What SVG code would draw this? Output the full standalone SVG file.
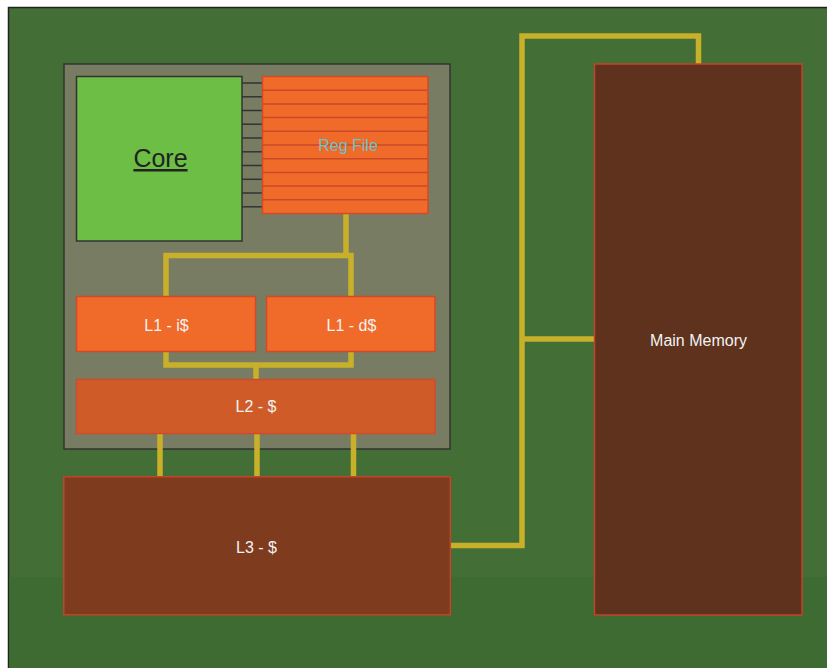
<svg xmlns="http://www.w3.org/2000/svg" width="827" height="668" viewBox="0 0 827 668">
<defs>
<style>
.lbl{font-family:"Liberation Sans",Arial,sans-serif;font-size:16px;fill:#f2f2f2;text-anchor:middle}
.bus{fill:none;stroke:#c9b02a;stroke-width:5.5;stroke-linejoin:miter;stroke-linecap:butt}
.org{fill:#f06a29;stroke:#d24a28;stroke-width:1.5}
.tick{stroke:#333;stroke-width:1.5}
.row{stroke:#c94a28;stroke-width:1.5}
</style>
</defs>
<rect x="0" y="0" width="827" height="668" fill="#ffffff"/>
<rect x="8.5" y="7.5" width="830" height="680" fill="#436e36" stroke="#222" stroke-width="1.5"/>
<rect x="9.25" y="577" width="830" height="100" fill="#3e6b31"/>
<rect x="64" y="64" width="386" height="385" fill="#787c62" stroke="#333" stroke-width="1.5"/>
<g id="connectors">
<path class="bus" d="M346 213 V255.5 M166 296 V255.5 H351 V296"/>
<path class="bus" d="M166 351 V365 H351 V351 M256 365 V379"/>
<path class="bus" d="M160 433 V477 M257 433 V477 M353.5 433 V477"/>
<path class="bus" d="M450.5 545.5 H522 V36 H698.5 V64 M522 339 H594"/>
<g class="tick">
<line x1="242" y1="83" x2="262" y2="83"/>
<line x1="242" y1="96.8" x2="262" y2="96.8"/>
<line x1="242" y1="110.5" x2="262" y2="110.5"/>
<line x1="242" y1="124.2" x2="262" y2="124.2"/>
<line x1="242" y1="138" x2="262" y2="138"/>
<line x1="242" y1="151.8" x2="262" y2="151.8"/>
<line x1="242" y1="165.5" x2="262" y2="165.5"/>
<line x1="242" y1="179.3" x2="262" y2="179.3"/>
<line x1="242" y1="193" x2="262" y2="193"/>
<line x1="242" y1="206.8" x2="262" y2="206.8"/>
</g>
</g>
<g id="core">
<rect x="76.5" y="76.5" width="165.5" height="164.5" fill="#6dbe45" stroke="#333" stroke-width="1.5"/>
<text x="160.5" y="167" font-family="Liberation Sans, Arial, sans-serif" font-size="25" fill="#222" text-anchor="middle" text-decoration="underline">Core</text>
</g>
<g id="regfile">
<rect x="262.5" y="76.5" width="165.5" height="137" class="org"/>
<g class="row">
<line x1="263" y1="90.2" x2="427.5" y2="90.2"/>
<line x1="263" y1="103.9" x2="427.5" y2="103.9"/>
<line x1="263" y1="117.6" x2="427.5" y2="117.6"/>
<line x1="263" y1="131.3" x2="427.5" y2="131.3"/>
<line x1="263" y1="145" x2="427.5" y2="145"/>
<line x1="263" y1="158.7" x2="427.5" y2="158.7"/>
<line x1="263" y1="172.4" x2="427.5" y2="172.4"/>
<line x1="263" y1="186.1" x2="427.5" y2="186.1"/>
<line x1="263" y1="199.8" x2="427.5" y2="199.8"/>
</g>
<text x="348" y="150.5" class="lbl" style="fill:#6cc3c8">Reg File</text>
</g>
<g id="l1i">
<rect x="76.5" y="296.5" width="179" height="55" class="org"/>
<text x="166.5" y="331" class="lbl">L1 - i$</text>
</g>
<g id="l1d">
<rect x="266.5" y="296.5" width="168.5" height="55" class="org"/>
<text x="351.5" y="331" class="lbl">L1 - d$</text>
</g>
<g id="l2">
<rect x="76.5" y="379.5" width="358.5" height="54" fill="#cf5c28" stroke="#d24a28" stroke-width="1.5"/>
<text x="256" y="412" class="lbl">L2 - $</text>
</g>
<g id="l3">
<rect x="63.8" y="476.8" width="386.5" height="138" fill="#7f3b1e" stroke="#c4432a" stroke-width="1.5"/>
<text x="256.5" y="552.5" class="lbl">L3 - $</text>
</g>
<g id="mainmemory">
<rect x="594.5" y="64" width="207.5" height="551" fill="#5f321e" stroke="#c4432a" stroke-width="1.5"/>
<text x="698.5" y="345.5" class="lbl">Main Memory</text>
</g>
</svg>
